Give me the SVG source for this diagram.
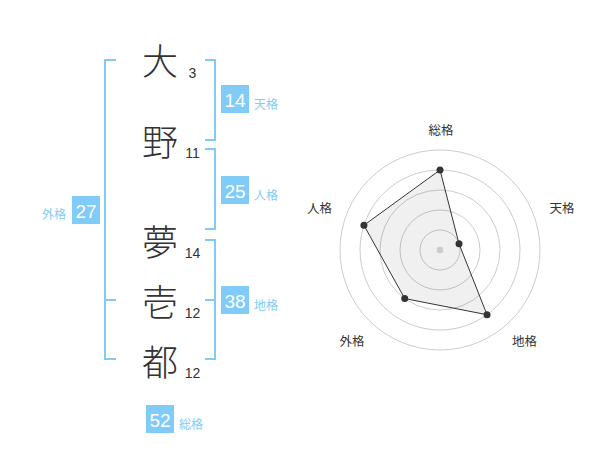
<svg xmlns="http://www.w3.org/2000/svg" width="600" height="470" viewBox="0 0 600 470">
<style>
.ch{font-family:"Noto Sans CJK JP","Noto Sans CJK SC",sans-serif;font-size:36px;font-weight:300;fill:#333;text-anchor:middle}
.num{font-family:"Liberation Sans",Arial,sans-serif;font-size:14px;fill:#333;text-anchor:middle}
.br{fill:none;stroke:#80cbf7;stroke-width:2}
.box{fill:#80cbf7}
.bt{font-family:"Liberation Sans",Arial,sans-serif;font-size:19px;fill:#fff;text-anchor:middle}
.lb{font-family:"Noto Sans CJK JP","Noto Sans CJK SC",sans-serif;font-size:12px;fill:#80cbf7}
.ring{fill:none;stroke:#cccccc;stroke-width:1}
.rl{font-family:"Noto Sans CJK JP","Noto Sans CJK SC",sans-serif;font-size:12.5px;fill:#333;text-anchor:middle}
.pt{fill:#333}
</style>
<rect width="600" height="470" fill="#fff"/>
<g id="name-chars">
<g id="c1"><text class="ch" x="160" y="75">大</text><text class="num" x="192.5" y="78">3</text></g>
<g id="c2"><text class="ch" x="160" y="156">野</text><text class="num" x="192.5" y="158">11</text></g>
<g id="c3"><text class="ch" x="160" y="256">夢</text><text class="num" x="192.5" y="258">14</text></g>
<g id="c4"><text class="ch" x="160" y="316">壱</text><text class="num" x="192.5" y="318">12</text></g>
<g id="c5"><text class="ch" x="160" y="376">都</text><text class="num" x="192.5" y="378">12</text></g>
</g>
<g id="connectors">
<path class="br" d="M116,60H105V359H116M105,300H116"/>
<path class="br" d="M205,60H215V140H205"/>
<path class="br" d="M205,149H215V229H205"/>
<path class="br" d="M205,240H215V359H205M205,300H215"/>
</g>
<g id="tenkaku"><rect class="box" x="221" y="85" width="28" height="28"/><text class="bt" x="235" y="107">14</text><text class="lb" x="254" y="109">天格</text></g>
<g id="jinkaku"><rect class="box" x="221" y="176" width="28" height="28"/><text class="bt" x="235" y="198">25</text><text class="lb" x="254" y="199.5">人格</text></g>
<g id="chikaku"><rect class="box" x="221" y="286" width="28" height="28"/><text class="bt" x="235" y="308">38</text><text class="lb" x="254" y="309.5">地格</text></g>
<g id="gaikaku"><rect class="box" x="72" y="196" width="28" height="28"/><text class="bt" x="86" y="218">27</text><text class="lb" x="42" y="219">外格</text></g>
<g id="soukaku"><rect class="box" x="146" y="405" width="28" height="28"/><text class="bt" x="160" y="427">52</text><text class="lb" x="179" y="428.5">総格</text></g>
<g id="radar">
<circle class="ring" cx="440" cy="250" r="20"/>
<circle class="ring" cx="440" cy="250" r="40"/>
<circle class="ring" cx="440" cy="250" r="60"/>
<circle class="ring" cx="440" cy="250" r="80"/>
<circle class="ring" cx="440" cy="250" r="100"/>
<polygon points="440,170 459.02,243.82 487.02,314.72 404.73,298.54 363.92,225.28" fill="#000" fill-opacity="0.06" stroke="#333" stroke-width="1"/>
<circle cx="440" cy="250" r="3.3" fill="#ccc"/>
<circle class="pt" cx="440" cy="170" r="3.5"/>
<circle class="pt" cx="459.02" cy="243.82" r="3.5"/>
<circle class="pt" cx="487.02" cy="314.72" r="3.5"/>
<circle class="pt" cx="404.73" cy="298.54" r="3.5"/>
<circle class="pt" cx="363.92" cy="225.28" r="3.5"/>
<text class="rl" x="441" y="135">総格</text>
<text class="rl" x="562" y="213">天格</text>
<text class="rl" x="524.5" y="346">地格</text>
<text class="rl" x="352" y="346">外格</text>
<text class="rl" x="319.5" y="213">人格</text>
</g>
</svg>
